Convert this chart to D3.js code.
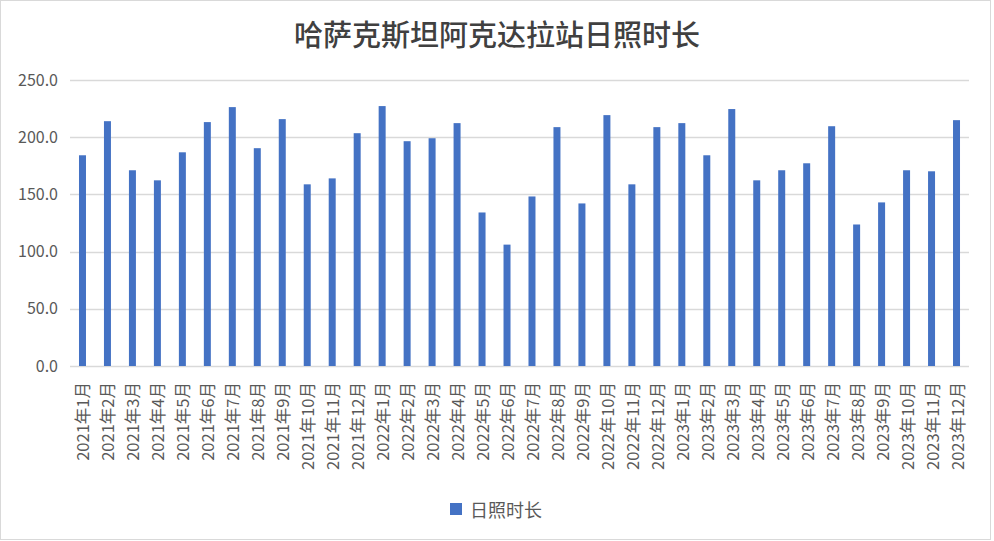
<!DOCTYPE html>
<html>
<head>
<meta charset="utf-8">
<script src="https://cdn.jsdelivr.net/npm/d3@7"></script>
<style>
  body { margin: 0; background: #fff; }
  svg { display: block; }
</style>
</head>
<body>
<svg id="chart"></svg>
<script>
// sunshine hours per month
const months = [
  "2021年1月", "2021年2月", "2021年3月", "2021年4月", "2021年5月", "2021年6月",
  "2021年7月", "2021年8月", "2021年9月", "2021年10月", "2021年11月", "2021年12月",
  "2022年1月", "2022年2月", "2022年3月", "2022年4月", "2022年5月", "2022年6月",
  "2022年7月", "2022年8月", "2022年9月", "2022年10月", "2022年11月", "2022年12月",
  "2023年1月", "2023年2月", "2023年3月", "2023年4月", "2023年5月", "2023年6月",
  "2023年7月", "2023年8月", "2023年9月", "2023年10月", "2023年11月", "2023年12月"
];
const sunshine = [
  184.2, 214.0, 171.1, 162.3, 186.8, 213.2, 226.3, 190.4, 215.8, 158.8, 164.0, 203.5,
  227.2, 196.5, 199.1, 212.3, 134.2, 106.1, 148.2, 208.8, 142.1, 219.3, 158.8, 208.8,
  212.3, 184.2, 224.6, 162.3, 171.1, 177.2, 209.6, 123.7, 143.0, 171.1, 170.2, 214.9
];
const yTicks = [0, 50, 100, 150, 200, 250];
const title = "哈萨克斯坦阿克达拉站日照时长";
const seriesName = "日照时长";

const width = 994, height = 541;
const margin = { top: 80, right: 25, bottom: 175, left: 70 };
const barColor = "#4472c4";
const textColor = "#595959";
const fontFamily = "'Noto Sans CJK SC', 'Noto Sans', sans-serif";

const svg = d3.select("#chart")
  .attr("width", width)
  .attr("height", height);

// outer frame
svg.append("rect")
  .attr("x", 0.5).attr("y", 0.5)
  .attr("width", width - 4).attr("height", height - 2)
  .attr("fill", "#fff")
  .attr("stroke", "#d9d9d9");

const x = d3.scaleBand()
  .domain(months)
  .range([margin.left, width - margin.right])
  .paddingInner(0.72)
  .paddingOuter(0.36);

const y = d3.scaleLinear()
  .domain([0, 250])
  .range([height - margin.bottom, margin.top]);

// gridlines
svg.append("g")
  .selectAll("line")
  .data(yTicks)
  .join("line")
  .attr("x1", margin.left)
  .attr("x2", width - margin.right)
  .attr("y1", d => Math.round(y(d)) + 0.5)
  .attr("y2", d => Math.round(y(d)) + 0.5)
  .attr("stroke", "#d9d9d9")
  .attr("stroke-width", 1.3);

// y axis labels
const yAxis = d3.axisLeft(y)
  .tickValues(yTicks)
  .tickSize(0)
  .tickPadding(12)
  .tickFormat(d3.format(".1f"));

svg.append("g")
  .attr("transform", "translate(" + margin.left + ",0)")
  .call(yAxis)
  .call(g => g.select(".domain").remove())
  .selectAll("text")
  .attr("fill", textColor)
  .style("font-family", fontFamily)
  .style("font-size", "16px");

// bars
svg.append("g")
  .selectAll("rect")
  .data(sunshine)
  .join("rect")
  .attr("x", (d, i) => x(months[i]))
  .attr("width", x.bandwidth())
  .attr("y", d => y(d))
  .attr("height", d => y(0) - y(d))
  .attr("fill", barColor);

// x axis labels, rotated
const xAxis = d3.axisBottom(x).tickSize(0).tickPadding(0);
svg.append("g")
  .attr("transform", "translate(0," + y(0) + ")")
  .call(xAxis)
  .call(g => g.select(".domain").remove())
  .selectAll("text")
  .attr("fill", textColor)
  .style("font-family", fontFamily)
  .style("font-size", "16.5px")
  .attr("text-anchor", "end")
  .attr("dy", null)
  .attr("dominant-baseline", "central")
  .attr("transform", "translate(0,16) rotate(-90)");

// title
svg.append("text")
  .attr("x", width / 2)
  .attr("y", 46)
  .attr("text-anchor", "middle")
  .attr("fill", "#404040")
  .style("font-family", fontFamily)
  .style("font-size", "29px")
  .style("font-weight", "500")
  .text(title);

// legend
const legend = svg.append("g").attr("transform", "translate(450,503)");
legend.append("rect")
  .attr("width", 12).attr("height", 12)
  .attr("fill", barColor);
legend.append("text")
  .attr("x", 20).attr("y", 6)
  .attr("dominant-baseline", "central")
  .attr("fill", textColor)
  .style("font-family", fontFamily)
  .style("font-size", "18px")
  .text(seriesName);
</script>
</body>
</html>
